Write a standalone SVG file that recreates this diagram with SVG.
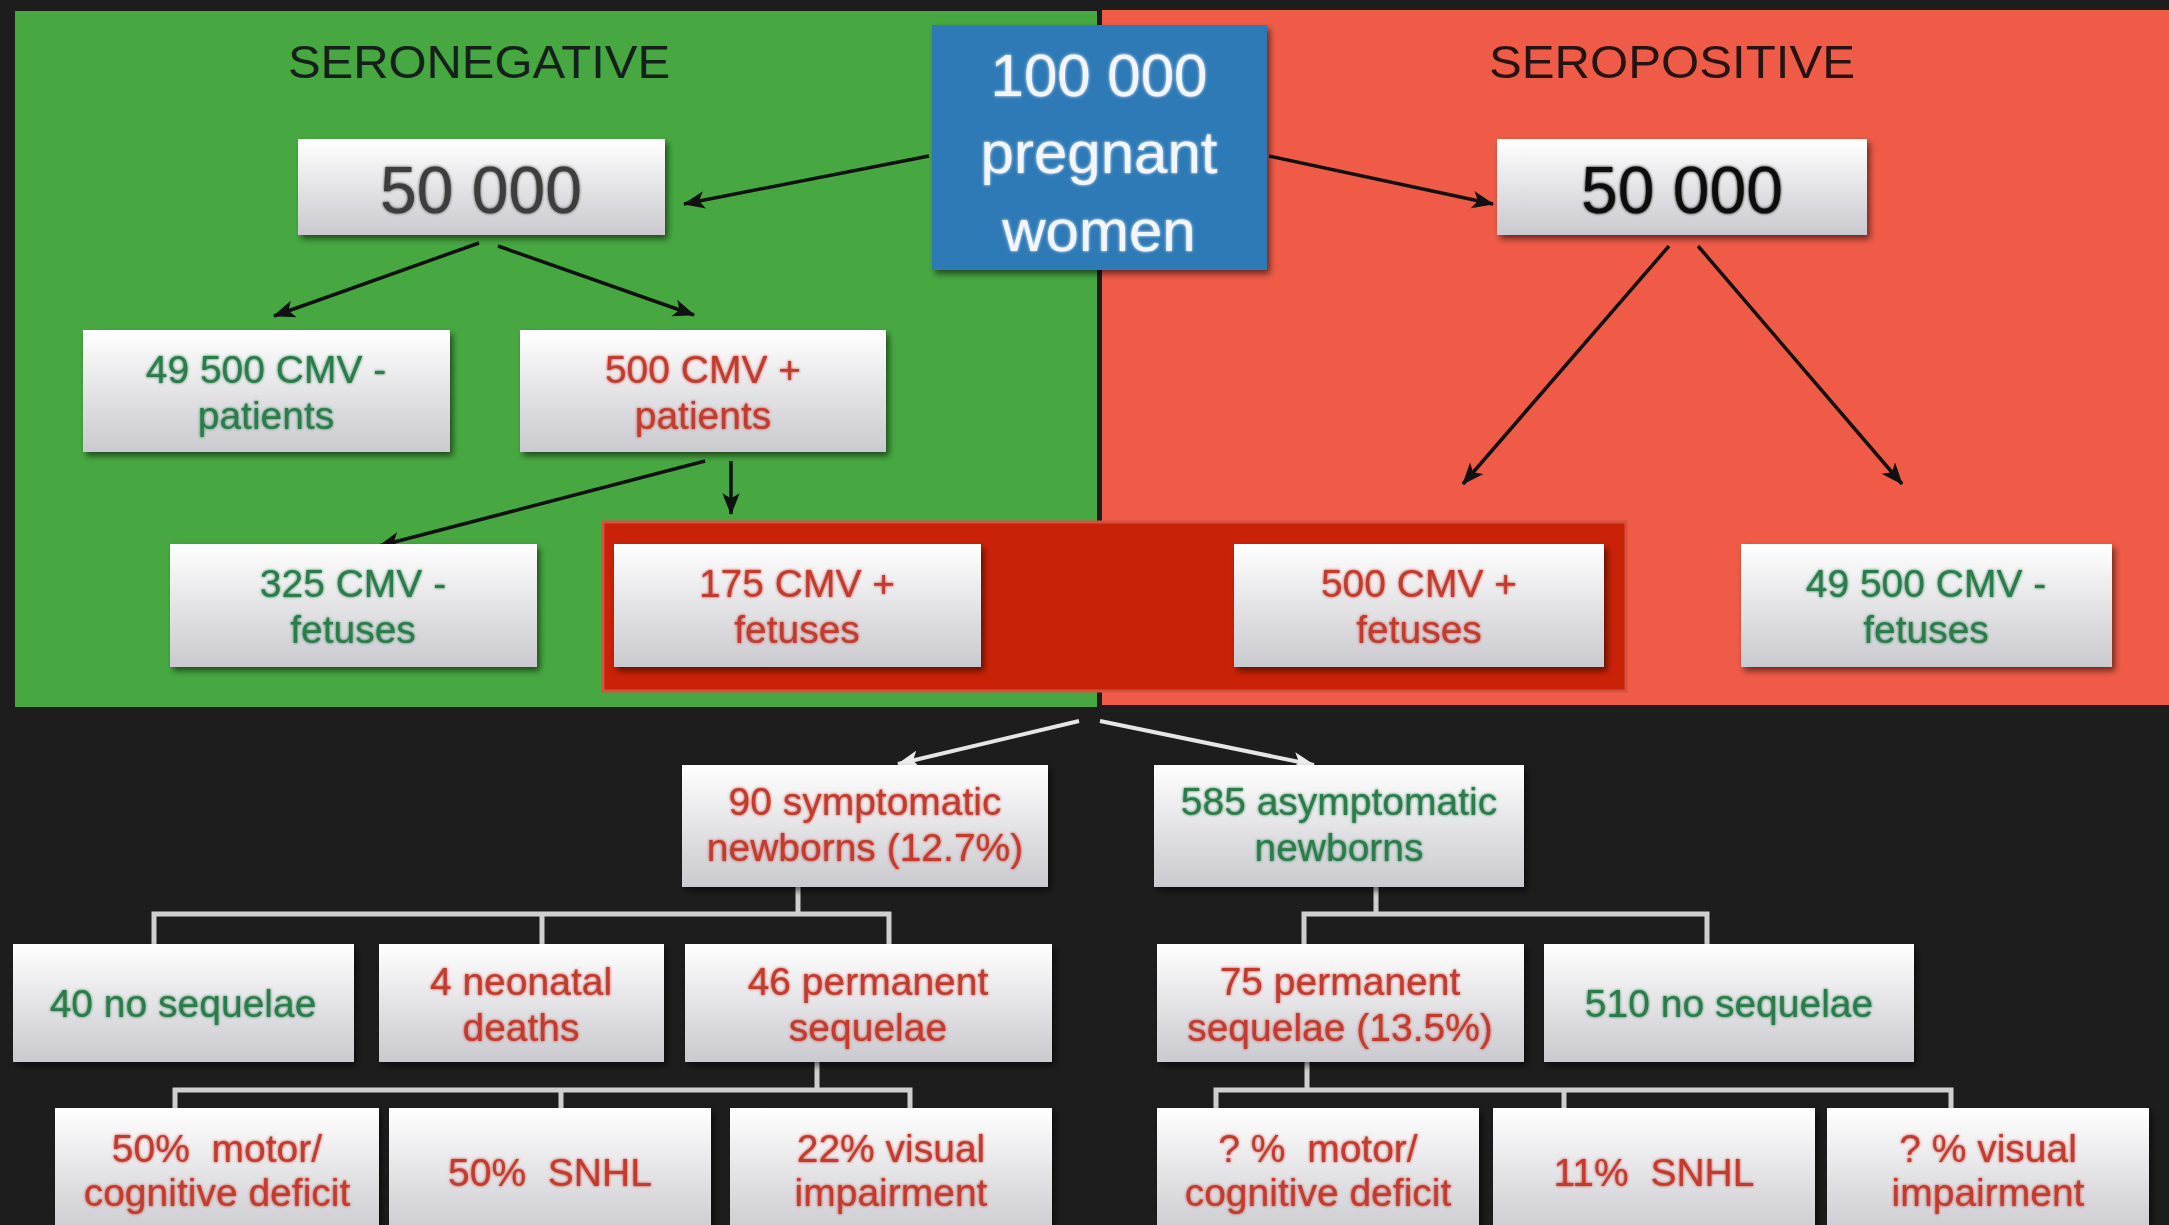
<svg xmlns="http://www.w3.org/2000/svg" width="2169" height="1225" viewBox="0 0 2169 1225">
<style>
text{font-family:"Liberation Sans",Arial,sans-serif;text-anchor:middle}
.box{fill:url(#boxgrad);filter:url(#shadow)}
.g{fill:#2b7c4b;font-size:39px;filter:url(#glow)}
.r{fill:#c23b2d;font-size:39px;filter:url(#glow)}
.title{font-size:47px;fill:#16201a}
.ba{stroke:#111;stroke-width:3.5;fill:none;marker-end:url(#ah)}
.wa{stroke:#e6e6e6;stroke-width:4;fill:none;marker-end:url(#wh)}
.br{stroke:#cfcfcf;stroke-width:5;fill:none}
</style>
<defs>
<linearGradient id="boxgrad" x1="0" y1="0" x2="0" y2="1">
<stop offset="0" stop-color="#ffffff"/>
<stop offset="1" stop-color="#c9c9cf"/>
</linearGradient>
<filter id="shadow" x="-10%" y="-10%" width="125%" height="130%">
<feGaussianBlur in="SourceAlpha" stdDeviation="3"/>
<feOffset dx="3" dy="4" result="b"/>
<feComponentTransfer><feFuncA type="linear" slope="0.55"/></feComponentTransfer>
<feMerge><feMergeNode/><feMergeNode in="SourceGraphic"/></feMerge>
</filter>
<filter id="glow" x="-10%" y="-20%" width="120%" height="140%">
<feGaussianBlur in="SourceGraphic" stdDeviation="1.8" result="bl"/>
<feMerge><feMergeNode in="bl"/><feMergeNode in="SourceGraphic"/></feMerge>
</filter>
<marker id="ah" viewBox="0 0 20 16" refX="19" refY="8" markerWidth="22" markerHeight="18" markerUnits="userSpaceOnUse" orient="auto">
<path d="M0,0 L20,8 L0,16 L5,8 Z" fill="#111"/>
</marker>
<marker id="wh" viewBox="0 0 20 16" refX="19" refY="8" markerWidth="22" markerHeight="18" markerUnits="userSpaceOnUse" orient="auto">
<path d="M0,0 L20,8 L0,16 L5,8 Z" fill="#ececec"/>
</marker>
</defs>
<rect x="0" y="0" width="2169" height="1225" fill="#1d1d1d"/>
<rect id="panel-seronegative" x="15" y="11" width="1082" height="696" fill="#47a841"/>
<rect id="panel-seropositive" x="1102" y="10" width="1067" height="695" fill="#ef5b46"/>
<text class="title" x="479" y="78" textLength="382" lengthAdjust="spacingAndGlyphs">SERONEGATIVE</text>
<text class="title" x="1672" y="78" style="fill:#241414" textLength="366" lengthAdjust="spacingAndGlyphs">SEROPOSITIVE</text>

<g id="container-cmv-positive">
<rect x="603" y="522" width="1023" height="169" fill="#c92208" stroke="#d5523f" stroke-width="3"/>
</g>

<g id="connectors">
<line class="ba" x1="929" y1="156" x2="684" y2="204"/>
<line class="ba" x1="1269" y1="156" x2="1493" y2="204"/>
<line class="ba" x1="479" y1="243" x2="274" y2="316"/>
<line class="ba" x1="498" y1="246" x2="694" y2="315"/>
<line class="ba" x1="705" y1="461" x2="379" y2="546"/>
<line class="ba" x1="731" y1="461" x2="731" y2="514"/>
<line class="ba" x1="1669" y1="246" x2="1463" y2="484"/>
<line class="ba" x1="1698" y1="246" x2="1902" y2="484"/>
<line class="wa" x1="1079" y1="721" x2="898" y2="764"/>
<line class="wa" x1="1100" y1="721" x2="1314" y2="765"/>
<path class="br" d="M798,887 V914 M154,944 V914 H889 V944 M542,914 V944"/>
<path class="br" d="M817,1062 V1090 M175,1108 V1090 H910 V1108 M561,1090 V1108"/>
<path class="br" d="M1376,887 V914 M1304,944 V914 H1707 V944"/>
<path class="br" d="M1307,1062 V1090 M1216,1108 V1090 H1951 V1108 M1564,1090 V1108"/>
</g>

<g id="n-total">
<rect x="932" y="25" width="335" height="245" fill="#2d7ab7" filter="url(#shadow)"/>
<g filter="url(#glow)">
<text x="1099" y="96" style="fill:#f3f6ff;font-size:60px">100 000</text>
<text x="1099" y="173" style="fill:#f3f6ff;font-size:60px">pregnant</text>
<text x="1099" y="251" style="fill:#f3f6ff;font-size:60px">women</text>
</g>
</g>

<g id="n-seroneg-50000">
<rect class="box" x="298" y="139" width="367" height="96"/>
<text x="481" y="213" style="font-size:66px;fill:#3d3d3d" filter="url(#glow)">50 000</text>
</g>
<g id="n-seropos-50000">
<rect class="box" x="1497" y="139" width="370" height="96"/>
<text x="1682" y="213" style="font-size:66px;fill:#0c0c0c" filter="url(#glow)">50 000</text>
</g>

<g id="n-49500-patients">
<rect class="box" x="83" y="330" width="367" height="122"/>
<text class="g" x="266" y="383">49 500 CMV -</text>
<text class="g" x="266" y="429">patients</text>
</g>
<g id="n-500-patients">
<rect class="box" x="520" y="330" width="366" height="122"/>
<text class="r" x="703" y="383">500 CMV +</text>
<text class="r" x="703" y="429">patients</text>
</g>

<g id="n-325-fetuses">
<rect class="box" x="170" y="544" width="367" height="123"/>
<text class="g" x="353" y="597">325 CMV -</text>
<text class="g" x="353" y="643">fetuses</text>
</g>
<g id="n-175-fetuses">
<rect class="box" x="614" y="544" width="367" height="123"/>
<text class="r" x="797" y="597">175 CMV +</text>
<text class="r" x="797" y="643">fetuses</text>
</g>
<g id="n-500-fetuses">
<rect class="box" x="1234" y="544" width="370" height="123"/>
<text class="r" x="1419" y="597">500 CMV +</text>
<text class="r" x="1419" y="643">fetuses</text>
</g>
<g id="n-49500-fetuses">
<rect class="box" x="1741" y="544" width="371" height="123"/>
<text class="g" x="1926" y="597">49 500 CMV -</text>
<text class="g" x="1926" y="643">fetuses</text>
</g>

<g id="n-90-symptomatic">
<rect class="box" x="682" y="765" width="366" height="122"/>
<text class="r" x="865" y="815">90 symptomatic</text>
<text class="r" x="865" y="861">newborns (12.7%)</text>
</g>
<g id="n-585-asymptomatic">
<rect class="box" x="1154" y="765" width="370" height="122"/>
<text class="g" x="1339" y="815">585 asymptomatic</text>
<text class="g" x="1339" y="861">newborns</text>
</g>

<g id="n-40-no-sequelae">
<rect class="box" x="13" y="944" width="341" height="118"/>
<text class="g" x="183" y="1017">40 no sequelae</text>
</g>
<g id="n-4-deaths">
<rect class="box" x="379" y="944" width="285" height="118"/>
<text class="r" x="521" y="995">4 neonatal</text>
<text class="r" x="521" y="1041">deaths</text>
</g>
<g id="n-46-permanent">
<rect class="box" x="685" y="944" width="367" height="118"/>
<text class="r" x="868" y="995">46 permanent</text>
<text class="r" x="868" y="1041">sequelae</text>
</g>
<g id="n-75-permanent">
<rect class="box" x="1157" y="944" width="367" height="118"/>
<text class="r" x="1340" y="995">75 permanent</text>
<text class="r" x="1340" y="1041">sequelae (13.5%)</text>
</g>
<g id="n-510-no-sequelae">
<rect class="box" x="1544" y="944" width="370" height="118"/>
<text class="g" x="1729" y="1017">510 no sequelae</text>
</g>

<g id="n-50-motor">
<rect class="box" x="55" y="1108" width="324" height="130"/>
<text class="r" x="217" y="1162" xml:space="preserve">50%  motor/</text>
<text class="r" x="217" y="1206">cognitive deficit</text>
</g>
<g id="n-50-snhl">
<rect class="box" x="389" y="1108" width="322" height="130"/>
<text class="r" x="550" y="1186" xml:space="preserve">50%  SNHL</text>
</g>
<g id="n-22-visual">
<rect class="box" x="730" y="1108" width="322" height="130"/>
<text class="r" x="891" y="1162">22% visual</text>
<text class="r" x="891" y="1206">impairment</text>
</g>
<g id="n-q-motor">
<rect class="box" x="1157" y="1108" width="322" height="130"/>
<text class="r" x="1318" y="1162" xml:space="preserve">? %  motor/</text>
<text class="r" x="1318" y="1206">cognitive deficit</text>
</g>
<g id="n-11-snhl">
<rect class="box" x="1493" y="1108" width="322" height="130"/>
<text class="r" x="1654" y="1186" xml:space="preserve">11%  SNHL</text>
</g>
<g id="n-q-visual">
<rect class="box" x="1827" y="1108" width="322" height="130"/>
<text class="r" x="1988" y="1162">? % visual</text>
<text class="r" x="1988" y="1206">impairment</text>
</g>
</svg>
